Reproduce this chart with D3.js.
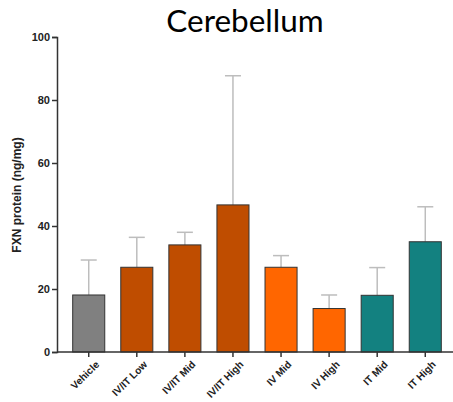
<!DOCTYPE html>
<html>
<head>
<meta charset="utf-8">
<script src="https://cdn.jsdelivr.net/npm/d3@7"></script>
<style>
  html, body { margin: 0; padding: 0; background: #fff; }
  svg { display: block; }
</style>
</head>
<body>
<div id="chart"></div>
<script>
// Group names, mean FXN levels and upper SD for each group
const categories = ["Vehicle", "IV/IT Low", "IV/IT Mid", "IV/IT High", "IV Mid", "IV High", "IT Mid", "IT High"];
const means = [18.1, 26.9, 34.0, 46.7, 26.9, 13.8, 18.0, 35.0];
const upperErrors = [29.2, 36.4, 38.0, 87.7, 30.6, 18.1, 26.8, 46.1];
const barColors = ["#808080", "#BF4D00", "#BF4D00", "#BF4D00", "#FF6600", "#FF6600", "#138180", "#138180"];
const yTicks = [0, 20, 40, 60, 80, 100];

const width = 453, height = 402;
const labelFont = "'Liberation Sans', Arial, sans-serif";

const svg = d3.select("#chart").append("svg")
  .attr("width", width).attr("height", height);

const x = d3.scaleBand()
  .domain(categories)
  .range([65, 449])
  .paddingInner(1 / 3)
  .paddingOuter(0.16);

const y = d3.scaleLinear()
  .domain([0, 100])
  .range([352, 37]);

// Title
svg.append("text")
  .attr("x", 245).attr("y", 32)
  .attr("text-anchor", "middle")
  .attr("font-family", "Lato, 'Open Sans', sans-serif")
  .attr("font-size", 31.5)
  .attr("fill", "#000")
  .text("Cerebellum");

// Error bars (upper only)
const err = svg.append("g").attr("stroke", "#bdbdbd").attr("stroke-width", 1.5);
categories.forEach((c, i) => {
  const cx = x(c) + x.bandwidth() / 2;
  err.append("line")
    .attr("x1", cx).attr("x2", cx)
    .attr("y1", y(means[i])).attr("y2", y(upperErrors[i]));
  err.append("line")
    .attr("x1", cx - 8).attr("x2", cx + 8)
    .attr("y1", y(upperErrors[i])).attr("y2", y(upperErrors[i]));
});

// Bars
svg.append("g").selectAll("rect")
  .data(categories)
  .join("rect")
  .attr("x", d => x(d))
  .attr("y", (d, i) => y(means[i]))
  .attr("width", x.bandwidth())
  .attr("height", (d, i) => y(0) - y(means[i]))
  .attr("fill", (d, i) => barColors[i])
  .attr("stroke", "#333")
  .attr("stroke-width", 1);

// Y axis
const yAxis = svg.append("g")
  .attr("transform", "translate(57,0)")
  .call(d3.axisLeft(y).tickValues(yTicks).tickSize(5).tickPadding(2));
yAxis.select(".domain").attr("stroke", "#333").attr("stroke-width", 1.5);
yAxis.selectAll(".tick line").attr("stroke", "#333").attr("stroke-width", 1.5);
yAxis.selectAll("text")
  .attr("font-family", labelFont)
  .attr("font-weight", "bold")
  .attr("font-size", 11)
  .attr("fill", "#222");

// X axis
const xAxis = svg.append("g")
  .attr("transform", "translate(0,352)")
  .call(d3.axisBottom(x).tickSize(5).tickSizeOuter(0).tickPadding(3));
xAxis.select(".domain").attr("stroke", "#333").attr("stroke-width", 1.5)
  .attr("d", "M57,0H453");
xAxis.selectAll(".tick line").attr("stroke", "#333").attr("stroke-width", 1.5);
xAxis.selectAll("text")
  .attr("font-family", labelFont)
  .attr("font-weight", "bold")
  .attr("font-size", 10.2)
  .attr("fill", "#222")
  .attr("text-anchor", "end")
  .attr("dy", "0.35em")
  .attr("transform", "translate(3,5) rotate(-45)");

// Y axis title
svg.append("text")
  .attr("transform", "translate(21,195) rotate(-90)")
  .attr("text-anchor", "middle")
  .attr("font-family", labelFont)
  .attr("font-weight", "bold")
  .attr("font-size", 12)
  .attr("fill", "#222")
  .text("FXN protein (ng/mg)");
</script>
</body>
</html>
